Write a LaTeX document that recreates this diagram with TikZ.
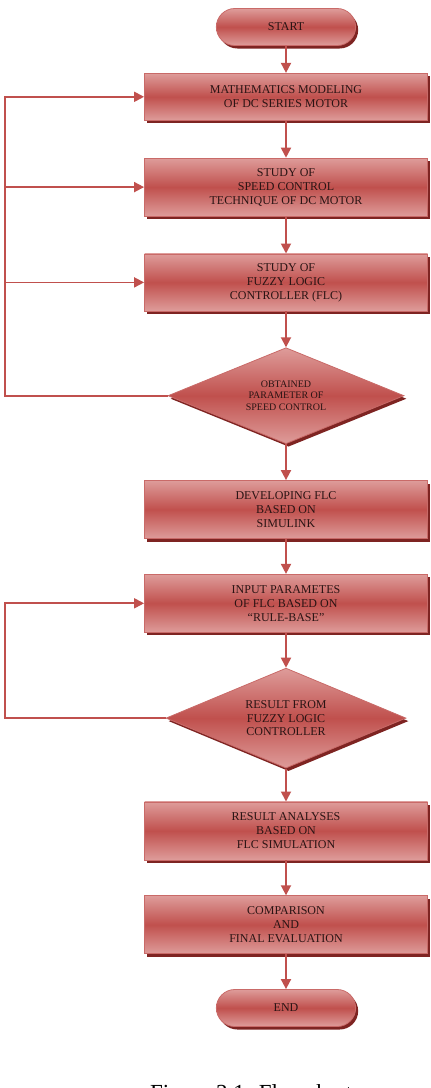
\documentclass[tikz,border=0pt]{standalone}
\usepackage{fontspec}
\setmainfont{Liberation Serif}
\usepackage{xcolor}
\usetikzlibrary{positioning,arrows.meta,shapes.geometric,shapes.misc,shadows}
\definecolor{flred}{HTML}{C0504D}
\definecolor{flpink}{HTML}{DE9C9A}
\definecolor{flshade}{HTML}{7E2422}
\definecolor{fltext}{HTML}{2A1414}

\begin{document}
\begin{tikzpicture}[x=1pt,y=1pt,
  node distance=36pt,
  base/.style={draw=flred!85!white,line width=0.8pt,top color=flpink,bottom color=flpink,middle color=flred,
    text=fltext,font=\fontsize{12}{14}\selectfont,align=center,
    drop shadow={shadow xshift=2.5pt,shadow yshift=-3pt,fill=flshade,opacity=1}},
  box/.style={base,rectangle,minimum width=283pt,minimum height=58pt,inner sep=2pt},
  term/.style={base,rounded rectangle,minimum width=146pt,minimum height=37pt},
  dec/.style={base,diamond,aspect=2.4,minimum width=236pt,minimum height=96pt,inner sep=0pt},
  line/.style={draw=flred,line width=1.8pt},
  arr/.style={line,-{Triangle[length=10pt,width=10pt]}}]
  \useasboundingbox (0,0) rectangle (431,-1088);
  \node (start) [term] at (286,-27) {START};
  \node (model) [box,minimum height=47pt,below=27pt of start] {MATHEMATICS MODELING\\OF DC SERIES MOTOR};
  \node (tech) [box,below=37pt of model] {STUDY OF\\SPEED CONTROL\\TECHNIQUE OF DC MOTOR};
  \node (fuzzy) [box,minimum height=57pt,below=37pt of tech] {STUDY OF\\FUZZY LOGIC\\CONTROLLER (FLC)};
  \node (param) [dec,below=of fuzzy,font=\fontsize{10}{11.7}\selectfont] {OBTAINED\\PARAMETER OF\\SPEED CONTROL};
  \node (simu) [box,below=of param] {DEVELOPING FLC\\BASED ON\\SIMULINK};
  \node (rule) [box,below=35pt of simu] {INPUT PARAMETES\\OF FLC BASED ON\\``RULE-BASE''};
  \node (result) [dec,minimum width=240pt,minimum height=100pt,below=35pt of rule,font=\fontsize{12}{13.7}\selectfont] {RESULT FROM\\FUZZY LOGIC\\CONTROLLER};
  \node (anal) [box,below=33pt of result] {RESULT ANALYSES\\BASED ON\\FLC SIMULATION};
  \node (final) [box,below=35pt of anal] {COMPARISON\\AND\\FINAL EVALUATION};
  \node (end) [term,below=35pt of final] {END};
  % main flow
  \foreach \a/\b in {start/model,model/tech,tech/fuzzy,fuzzy/param,param/simu,simu/rule,rule/result,result/anal,anal/final,final/end}
    \draw[arr] (\a) -- (\b);
  % feedback loops
  \coordinate (rail) at (5,0);
  \draw[arr] (param.west) -- (param.west -| rail) |- (model.west);
  \draw[arr] (tech.west -| rail) -- (tech.west);
  \draw[arr] (fuzzy.west -| rail) -- (fuzzy.west);
  \draw[arr] (result.west) -- (result.west -| rail) |- (rule.west);
  % caption
  \node (cap) [anchor=base west,inner sep=0pt,font=\fontsize{23}{27}\selectfont] at (150,-1100) {Figure 3.1: Flowchart};
\end{tikzpicture}
\end{document}
